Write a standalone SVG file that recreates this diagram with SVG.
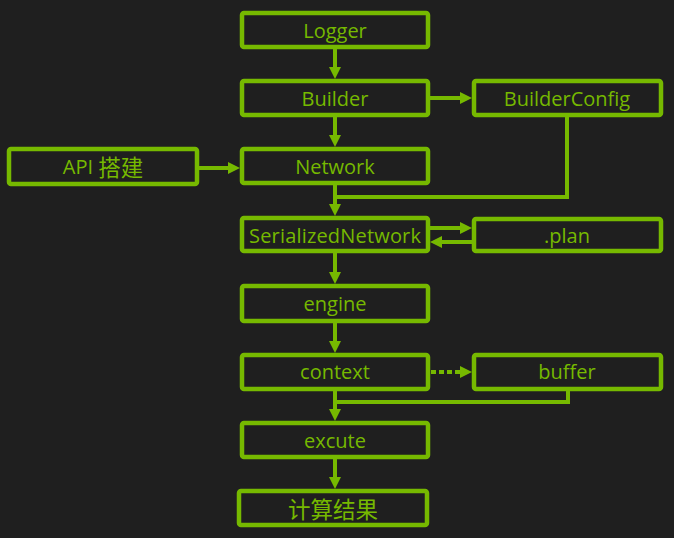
<svg xmlns="http://www.w3.org/2000/svg" width="674" height="538" viewBox="0 0 674 538">
<style>
.box{fill:none;stroke:#76b900;stroke-width:4.5;}
.lbl{fill:#76b900;font-family:"Open Sans","Noto Sans CJK SC",sans-serif;font-size:20px;text-anchor:middle;dominant-baseline:central;}
.cjk{font-family:"Noto Sans CJK SC",sans-serif;font-size:22.5px;}
.ln{fill:none;stroke:#76b900;stroke-width:4;}
.dot{stroke-dasharray:5 3;}
</style>
<defs>
<marker id="ah" markerUnits="userSpaceOnUse" markerWidth="12" markerHeight="12" refX="6" refY="6" orient="auto" viewBox="0 0 12 12">
<path d="M0,0 L12,6 L0,12 z" fill="#76b900"/>
</marker>
</defs>
<rect width="674" height="538" fill="#1f1f1f"/>
<g id="connectors">
<path class="ln" d="M335,49 V73" marker-end="url(#ah)"/>
<path class="ln" d="M430,98 H466" marker-end="url(#ah)"/>
<path class="ln" d="M335,117 V141" marker-end="url(#ah)"/>
<path class="ln" d="M199,168 H234" marker-end="url(#ah)"/>
<path class="ln" d="M335,185 V210" marker-end="url(#ah)"/>
<path class="ln" d="M567,117 V197 H335"/>
<path class="ln" d="M430,228 H466" marker-end="url(#ah)"/>
<path class="ln" d="M472,242 H436" marker-end="url(#ah)"/>
<path class="ln" d="M335,253 V278" marker-end="url(#ah)"/>
<path class="ln" d="M335,323 V347" marker-end="url(#ah)"/>
<path class="ln dot" d="M431,372 H466" marker-end="url(#ah)"/>
<path class="ln" d="M568,391 V402 H335"/>
<path class="ln" d="M335,391 V415" marker-end="url(#ah)"/>
<path class="ln" d="M335,459 V483" marker-end="url(#ah)"/>
</g>
<g id="logger"><rect class="box" x="242" y="13" width="186" height="34" rx="2"/><text class="lbl" x="335" y="30">Logger</text></g>
<g id="builder"><rect class="box" x="242" y="81" width="186" height="34" rx="2"/><text class="lbl" x="335" y="98">Builder</text></g>
<g id="builderconfig"><rect class="box" x="474" y="81" width="187" height="34" rx="2"/><text class="lbl" x="567" y="98">BuilderConfig</text></g>
<g id="api"><rect class="box" x="9" y="149" width="188" height="35" rx="2"/><text class="lbl" x="103" y="166">API <tspan class="cjk">搭建</tspan></text></g>
<g id="network"><rect class="box" x="242" y="149" width="186" height="34" rx="2"/><text class="lbl" x="335" y="166">Network</text></g>
<g id="serialized"><rect class="box" x="242" y="218" width="186" height="33" rx="2"/><text class="lbl" x="335" y="235" textLength="172">SerializedNetwork</text></g>
<g id="plan"><rect class="box" x="474" y="219" width="187" height="32" rx="2"/><text class="lbl" x="567" y="235">.plan</text></g>
<g id="engine"><rect class="box" x="242" y="286" width="186" height="35" rx="2"/><text class="lbl" x="335" y="303">engine</text></g>
<g id="context"><rect class="box" x="242" y="355" width="186" height="34" rx="2"/><text class="lbl" x="335" y="371">context</text></g>
<g id="buffer"><rect class="box" x="474" y="355" width="187" height="34" rx="2"/><text class="lbl" x="567" y="371">buffer</text></g>
<g id="excute"><rect class="box" x="242" y="423" width="186" height="34" rx="2"/><text class="lbl" x="335" y="440">excute</text></g>
<g id="result"><rect class="box" x="239" y="491" width="188" height="34" rx="2"/><text class="lbl cjk" x="333" y="508">计算结果</text></g>
</svg>
